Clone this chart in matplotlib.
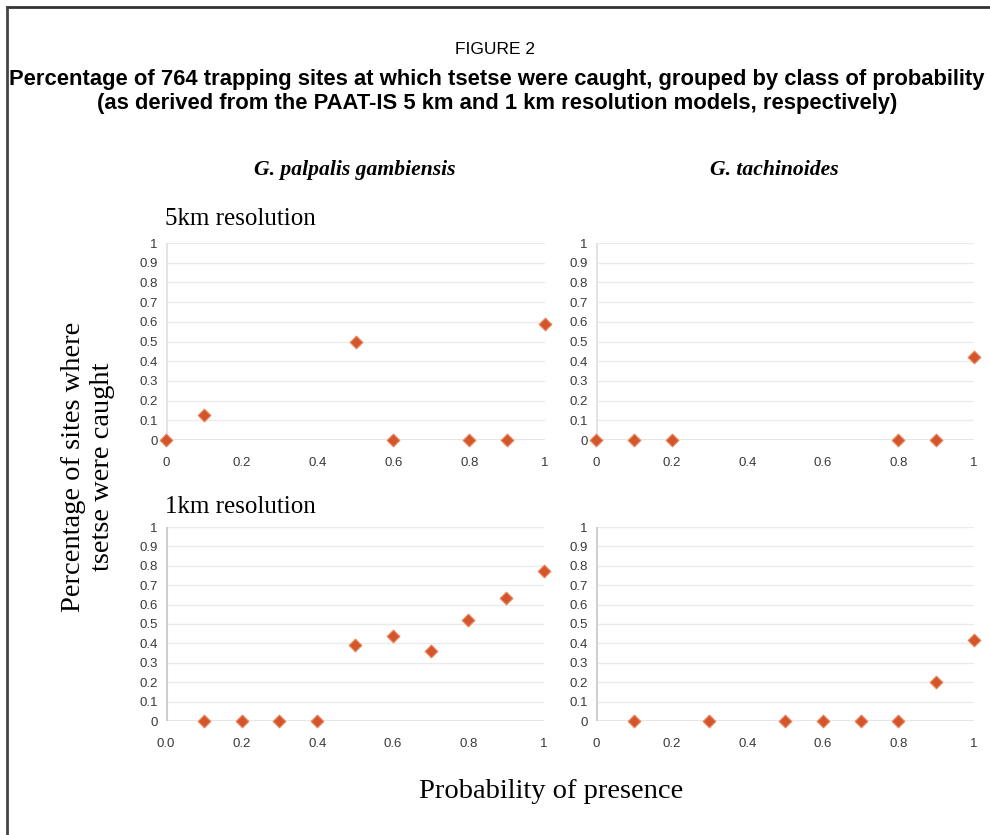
import matplotlib.pyplot as plt
from matplotlib.lines import Line2D

# data
ticks_y = [0, 0.1, 0.2, 0.3, 0.4, 0.5, 0.6, 0.7, 0.8, 0.9, 1]
ylabels = ['0', '0.1', '0.2', '0.3', '0.4', '0.5', '0.6', '0.7', '0.8', '0.9', '1']
ticks_x = [0, 0.2, 0.4, 0.6, 0.8, 1]
xlabels_a = ['0', '0.2', '0.4', '0.6', '0.8', '1']
xlabels_b = ['0.0', '0.2', '0.4', '0.6', '0.8', '1']

gpg_5km_x = [0, 0.1, 0.5, 0.6, 0.8, 0.9, 1]
gpg_5km_y = [0, 0.125, 0.5, 0, 0, 0, 0.59]
gt_5km_x = [0, 0.1, 0.2, 0.8, 0.9, 1]
gt_5km_y = [0, 0, 0, 0, 0, 0.42]
gpg_1km_x = [0.1, 0.2, 0.3, 0.4, 0.5, 0.6, 0.7, 0.8, 0.9, 1]
gpg_1km_y = [0, 0, 0, 0, 0.39, 0.44, 0.36, 0.52, 0.635, 0.775]
gt_1km_x = [0.1, 0.3, 0.5, 0.6, 0.7, 0.8, 0.9, 1]
gt_1km_y = [0, 0, 0, 0, 0, 0, 0.2, 0.42]

W, H = 990, 835
marker_col = '#d5552b'
serif = ['Liberation Serif', 'DejaVu Serif']
sans = ['Liberation Sans', 'DejaVu Sans']

fig = plt.figure(figsize=(W / 100, H / 100), dpi=100)


def px_axes(x0, y_top, x1, y_bot):
    # axes from pixel box of the reference
    return fig.add_axes([x0 / W, 1 - y_bot / H, (x1 - x0) / W, (y_bot - y_top) / H])


def panel(ax, xs, ys, xlabs, axis_col):
    ax.set_xlim(0, 1)
    ax.set_ylim(0, 1)
    for s in ax.spines.values():
        s.set_visible(False)
    for t in ticks_y[1:]:
        ax.axhline(t, color='#ebebeb', lw=1.0, zorder=0)
    ax.axhline(0, color='#e2e2e2', lw=1.2, zorder=0)
    ax.axvline(0, color=axis_col, lw=2.2, zorder=1)
    ax.set_yticks(ticks_y)
    ax.set_yticklabels(ylabels)
    ax.set_xticks(ticks_x)
    ax.set_xticklabels(xlabs)
    ax.tick_params(length=0, labelsize=9.5, labelcolor='#3a3a3a', pad=6)
    ax.tick_params(axis='x', pad=12)
    for lab in ax.get_xticklabels() + ax.get_yticklabels():
        lab.set_family(sans)
    ax.scatter(xs, ys, marker='D', s=42, color=marker_col, edgecolors='#e8885f',
               linewidths=0.8, zorder=3, clip_on=False)


ax1 = px_axes(166, 243, 545, 440)
panel(ax1, gpg_5km_x, gpg_5km_y, xlabels_a, '#e4e4e4')
ax2 = px_axes(596, 243, 974, 440)
panel(ax2, gt_5km_x, gt_5km_y, xlabels_a, '#e4e4e4')
ax3 = px_axes(166, 527, 544, 721)
panel(ax3, gpg_1km_x, gpg_1km_y, xlabels_b, '#cfcfcf')
ax4 = px_axes(596, 527, 974, 721)
panel(ax4, gt_1km_x, gt_1km_y, xlabels_a, '#cfcfcf')

# frame lines (top and left)
fig.add_artist(Line2D([7 / W, 1], [1 - 7 / H, 1 - 7 / H], transform=fig.transFigure,
                      color='#333333', lw=2))
fig.add_artist(Line2D([7 / W, 7 / W], [0, 1 - 7 / H], transform=fig.transFigure,
                      color='#444444', lw=2))

fig.text(495 / W, 1 - 50 / H, 'FIGURE 2', ha='center', va='center', fontsize=12.5,
         family=sans)
fig.text(497 / W, 1 - 79 / H,
         'Percentage of 764 trapping sites at which tsetse were caught, grouped by class of probability',
         ha='center', va='center', fontsize=15.8, fontweight='bold', family=sans)
fig.text(497 / W, 1 - 104 / H,
         '(as derived from the PAAT-IS 5 km and 1 km resolution models, respectively)',
         ha='center', va='center', fontsize=15.8, fontweight='bold', family=sans)

fig.text(355 / W, 1 - 170 / H, 'G. palpalis gambiensis', ha='center', va='center',
         fontsize=15.6, fontweight='bold', style='italic', family=serif)
fig.text(774 / W, 1 - 170 / H, 'G. tachinoides', ha='center', va='center',
         fontsize=15.6, fontweight='bold', style='italic', family=serif)
fig.text(165 / W, 1 - 219 / H, '5km resolution', ha='left', va='center',
         fontsize=18, family=serif)
fig.text(165 / W, 1 - 507 / H, '1km resolution', ha='left', va='center',
         fontsize=18, family=serif)
fig.text(88 / W, 1 - 467 / H, 'Percentage of sites where\ntsetse were caught', ha='center',
         va='center', rotation=90, fontsize=20.5, family=serif, linespacing=1.2)
fig.text(551 / W, 1 - 791 / H, 'Probability of presence', ha='center', va='center',
         fontsize=20.5, family=serif)

fig.savefig('out.png', dpi=100, facecolor='white')
